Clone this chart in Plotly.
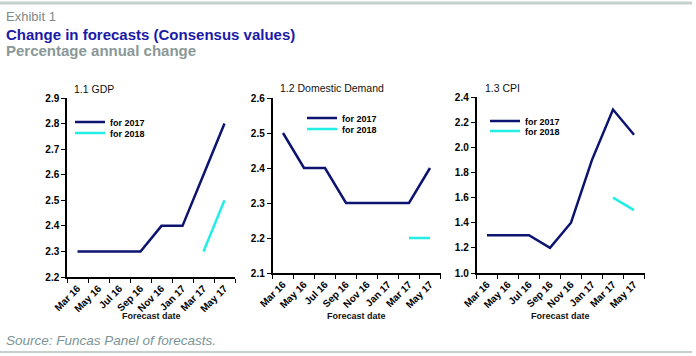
import plotly.graph_objects as go

W, H = 696, 356

categories = ["Mar 16", "May 16", "Jul 16", "Sep 16", "Nov 16", "Jan 17", "Mar 17", "May 17"]

gdp_2017 = [2.3, 2.3, 2.3, 2.3, 2.4, 2.4, 2.6, 2.8]
gdp_2018 = [None, None, None, None, None, None, 2.3, 2.5]

dd_2017 = [2.5, 2.4, 2.4, 2.3, 2.3, 2.3, 2.3, 2.4]
dd_2018 = [None, None, None, None, None, None, 2.2, 2.2]

cpi_2017 = [1.3, 1.3, 1.3, 1.2, 1.4, 1.9, 2.3, 2.1]
cpi_2018 = [None, None, None, None, None, None, 1.6, 1.5]

panel_titles = ["1.1 GDP", "1.2 Domestic Demand", "1.3 CPI"]
series_names = ["for 2017", "for 2018"]

NAVY = "#0d1470"
CYAN = "#22EEE6"
FONT = "Arial, Liberation Sans, sans-serif"


def px_x(p):
    return p / W


def px_y(p):
    return 1 - p / H


panels = [
    dict(data=(gdp_2017, gdp_2018), xdom=(67, 235), ydom=(98, 277), yr=(2.2, 2.9), dt=0.1,
         title_xy=(72, 89), legend_x=70, legend_y=(122, 133)),
    dict(data=(dd_2017, dd_2018), xdom=(272.5, 440.5), ydom=(98, 273), yr=(2.1, 2.6), dt=0.1,
         title_xy=(278, 88), legend_x=302, legend_y=(118, 129)),
    dict(data=(cpi_2017, cpi_2018), xdom=(476.5, 644.5), ydom=(97, 273), yr=(1.0, 2.4), dt=0.2,
         title_xy=(483, 88), legend_x=485, legend_y=(121, 131)),
]

fig = go.Figure()
layout = dict(
    width=W, height=H,
    margin=dict(l=0, r=0, t=0, b=0, autoexpand=False),
    paper_bgcolor="white", plot_bgcolor="white",
    font=dict(family=FONT, color="#000000", size=10),
    annotations=[], shapes=[],
)

leg_idx = 0
for i, p in enumerate(panels):
    n = "" if i == 0 else str(i + 1)
    xa, ya = "x" + n, "y" + n
    for s, (vals, name, col) in enumerate(zip(p["data"], series_names, [NAVY, CYAN])):
        leg_idx += 1
        leg = "legend" if leg_idx == 1 else "legend" + str(leg_idx)
        fig.add_trace(go.Scatter(
            x=categories, y=vals, name=name, mode="lines",
            line=dict(color=col, width=2.5), xaxis=xa, yaxis=ya,
            legend=leg, connectgaps=False, showlegend=True,
        ))
        layout[leg] = dict(
            x=px_x(p["legend_x"]), y=px_y(p["legend_y"][s]),
            xanchor="left", yanchor="middle", bgcolor="rgba(0,0,0,0)",
            font=dict(size=9, family=FONT, color="#000", weight="bold"),
            itemwidth=30,
        )
    layout["xaxis" + n] = dict(
        domain=[px_x(p["xdom"][0]), px_x(p["xdom"][1])],
        anchor=ya, type="category", categoryorder="array", categoryarray=categories,
        range=[-0.5, 7.5], tickson="boundaries", ticks="outside", ticklen=4,
        tickcolor="#000", showline=True, linecolor="#000", linewidth=1.5,
        showgrid=False, zeroline=False, tickangle=-45, automargin=False,
        tickfont=dict(size=10, family=FONT, color="#000", weight="bold"),
    )
    layout["yaxis" + n] = dict(
        domain=[px_y(p["ydom"][1]), px_y(p["ydom"][0])],
        anchor=xa, range=list(p["yr"]), dtick=p["dt"], tick0=p["yr"][0],
        tickformat=".1f", ticks="outside", ticklen=4, tickcolor="#000",
        showline=True, linecolor="#000", linewidth=1.5, showgrid=False, zeroline=False,
        automargin=False,
        tickfont=dict(size=10, family=FONT, color="#000", weight="bold"),
    )
    layout["annotations"].append(dict(
        text=panel_titles[i], x=px_x(p["title_xy"][0]), y=px_y(p["title_xy"][1]),
        xref="paper", yref="paper", xanchor="left", yanchor="middle",
        showarrow=False, font=dict(size=10.5, family=FONT, color="#111"),
    ))
    layout["annotations"].append(dict(
        text="<b>Forecast date</b>", x=px_x((p["xdom"][0] + p["xdom"][1]) / 2), y=px_y(316),
        xref="paper", yref="paper", xanchor="center", yanchor="middle",
        showarrow=False, font=dict(size=9, family=FONT, color="#111"),
    ))

# header / footer texts
layout["annotations"] += [
    dict(text="Exhibit 1", x=px_x(4), y=px_y(16), xref="paper", yref="paper",
         xanchor="left", yanchor="middle", showarrow=False,
         font=dict(size=13, family=FONT, color="#7f8a8a")),
    dict(text="<b>Change in forecasts (Consensus values)</b>", x=px_x(4), y=px_y(34),
         xref="paper", yref="paper", xanchor="left", yanchor="middle", showarrow=False,
         font=dict(size=15, family=FONT, color="#1a1aa8")),
    dict(text="<b>Percentage annual change</b>", x=px_x(4), y=px_y(50),
         xref="paper", yref="paper", xanchor="left", yanchor="middle", showarrow=False,
         font=dict(size=15, family=FONT, color="#8a9898")),
    dict(text="<i>Source: Funcas Panel of forecasts.</i>", x=px_x(4), y=px_y(340),
         xref="paper", yref="paper", xanchor="left", yanchor="middle", showarrow=False,
         font=dict(size=13.5, family=FONT, color="#7a9494")),
]
layout["shapes"] += [
    dict(type="line", xref="paper", yref="paper", x0=0, x1=px_x(692), y0=px_y(3), y1=px_y(3),
         line=dict(color="#c5d0cc", width=3)),
    dict(type="line", xref="paper", yref="paper", x0=0, x1=px_x(692), y0=px_y(352), y1=px_y(352),
         line=dict(color="#c5d0cc", width=2)),
]

fig.update_layout(**layout)
fig.write_html("out.html", config={"displayModeBar": False},
               post_script="document.body.style.margin='0';")
